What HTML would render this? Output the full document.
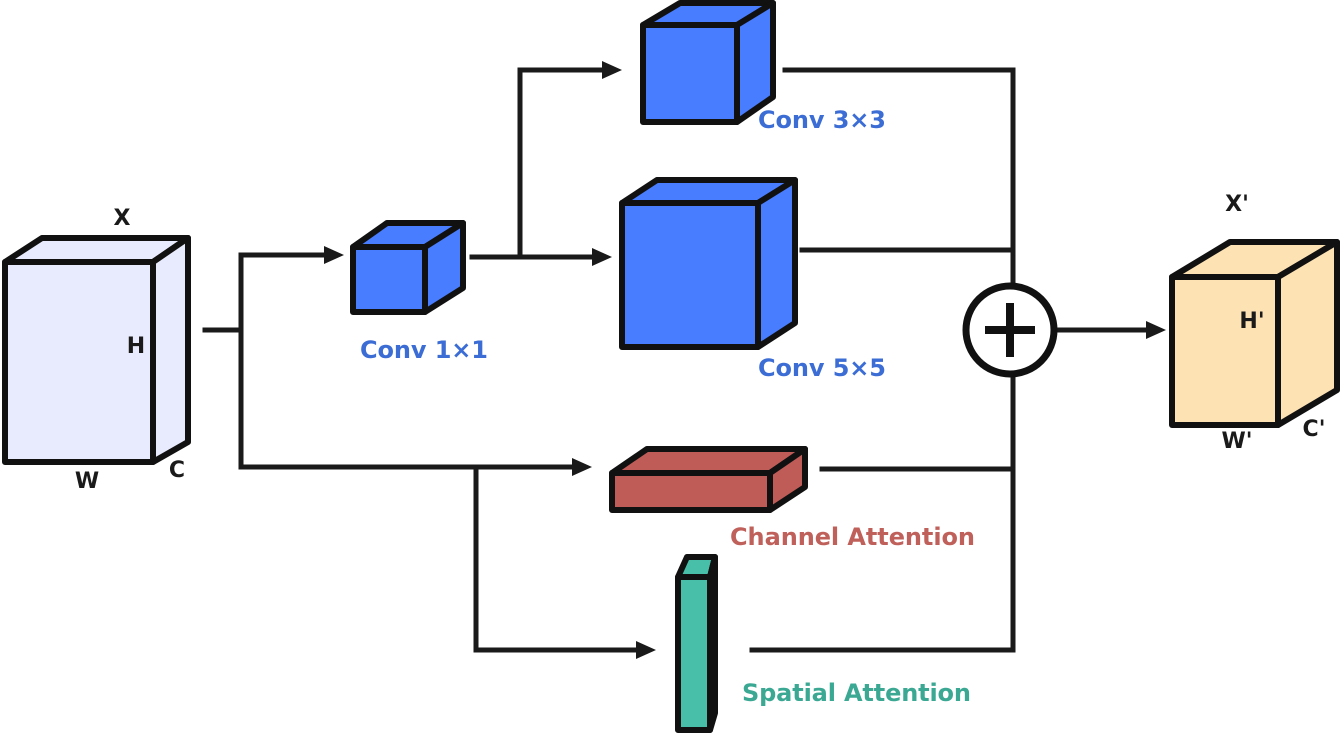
<!DOCTYPE html>
<html><head><meta charset="utf-8"><style>
html,body{margin:0;padding:0;background:#fff;}
svg{display:block;}
text{font-family:"DejaVu Sans","Liberation Sans",sans-serif;font-weight:bold;}
</style></head><body>
<svg width="1344" height="733" viewBox="0 0 1344 733" xmlns="http://www.w3.org/2000/svg">
<g stroke="#1a1a1a" stroke-width="5" fill="none" stroke-linejoin="miter" stroke-linecap="square">
<polyline points="205,330 241,330"/>
<polyline points="241,255 241,467"/>
<line x1="241" y1="255" x2="330" y2="255"/>
<line x1="241" y1="467" x2="578" y2="467"/>
<line x1="472" y1="257" x2="598" y2="257"/>
<polyline points="520,257 520,70"/>
<line x1="520" y1="70" x2="608" y2="70"/>
<polyline points="785,70 1013,70 1013,648"/>
<line x1="802" y1="250" x2="1013" y2="250"/>
<line x1="822" y1="469" x2="1013" y2="469"/>
<polyline points="752,650 1013,650"/>
<polyline points="476,467 476,650"/>
<line x1="476" y1="650" x2="642" y2="650"/>
<line x1="1055" y1="330" x2="1150" y2="330"/>
</g>
<g fill="#1a1a1a">
<polygon points="324,246 344,255 324,264"/>
<polygon points="572,458 592,467 572,476"/>
<polygon points="592,248 612,257 592,266"/>
<polygon points="602,61 622,70 602,79"/>
<polygon points="636,641 656,650 636,659"/>
<polygon points="1146,321 1166,330 1146,339"/>
</g>
<g stroke="#111" stroke-width="6" stroke-linejoin="round">
<polygon points="5,262 42,238 188,238 153,262" fill="#e8ebfd"/>
<polygon points="153,262 188,238 188,442 153,462" fill="#e8ebfd"/>
<rect x="5" y="262" width="148" height="200" fill="#e8ebfd"/>
<polygon points="353,247 387,223 463,223 425,247" fill="#487dff"/>
<polygon points="425,247 463,223 463,288 425,312" fill="#487dff"/>
<rect x="353" y="247" width="72" height="65" fill="#487dff"/>
<polygon points="643,25 680,3 773,3 737,25" fill="#487dff"/>
<polygon points="737,25 773,3 773,97 737,122" fill="#487dff"/>
<rect x="643" y="25" width="94" height="97" fill="#487dff"/>
<polygon points="622,203 657,180 795,180 758,203" fill="#487dff"/>
<polygon points="758,203 795,180 795,323 758,347" fill="#487dff"/>
<rect x="622" y="203" width="136" height="144" fill="#487dff"/>
<polygon points="612,473 647,449 805,449 770,473" fill="#c05c58"/>
<polygon points="770,473 805,449 805,487 770,510" fill="#c05c58"/>
<rect x="612" y="473" width="158" height="37" fill="#c05c58"/>
<polygon points="678,577 687,557 715,557 710,577" fill="#47bfa9"/>
<polygon points="710,577 715,557 715,713 710,730" fill="#47bfa9"/>
<rect x="678" y="577" width="32" height="153" fill="#47bfa9"/>
<polygon points="1172,277 1230,242 1337,242 1278,277" fill="#fde2b4"/>
<polygon points="1278,277 1337,242 1337,390 1278,425" fill="#fde2b4"/>
<rect x="1172" y="277" width="106" height="148" fill="#fde2b4"/>
</g>
<circle cx="1010" cy="330" r="44" fill="#fff" stroke="#111" stroke-width="7"/>
<line x1="985" y1="330" x2="1035" y2="330" stroke="#111" stroke-width="8"/>
<line x1="1010" y1="303" x2="1010" y2="357" stroke="#111" stroke-width="8"/>
<g font-size="22" fill="#1a1a1a">
<text x="122" y="225" text-anchor="middle">X</text>
<text x="136" y="353" text-anchor="middle">H</text>
<text x="87" y="488" text-anchor="middle">W</text>
<text x="177" y="477" text-anchor="middle">C</text>
<text x="1237" y="211" text-anchor="middle">X'</text>
<text x="1252" y="328" text-anchor="middle">H'</text>
<text x="1237" y="448" text-anchor="middle">W'</text>
<text x="1314" y="436" text-anchor="middle">C'</text>
</g>
<g font-size="24">
<text x="360" y="358" fill="#3b6dd5" textLength="128">Conv 1×1</text>
<text x="758" y="128" fill="#3b6dd5" textLength="128">Conv 3×3</text>
<text x="758" y="376" fill="#3b6dd5" textLength="128">Conv 5×5</text>
<text x="730" y="545" fill="#c0605a" textLength="245">Channel Attention</text>
<text x="742" y="701" fill="#3aa893" textLength="229">Spatial Attention</text>
</g>
</svg>
</body></html>
